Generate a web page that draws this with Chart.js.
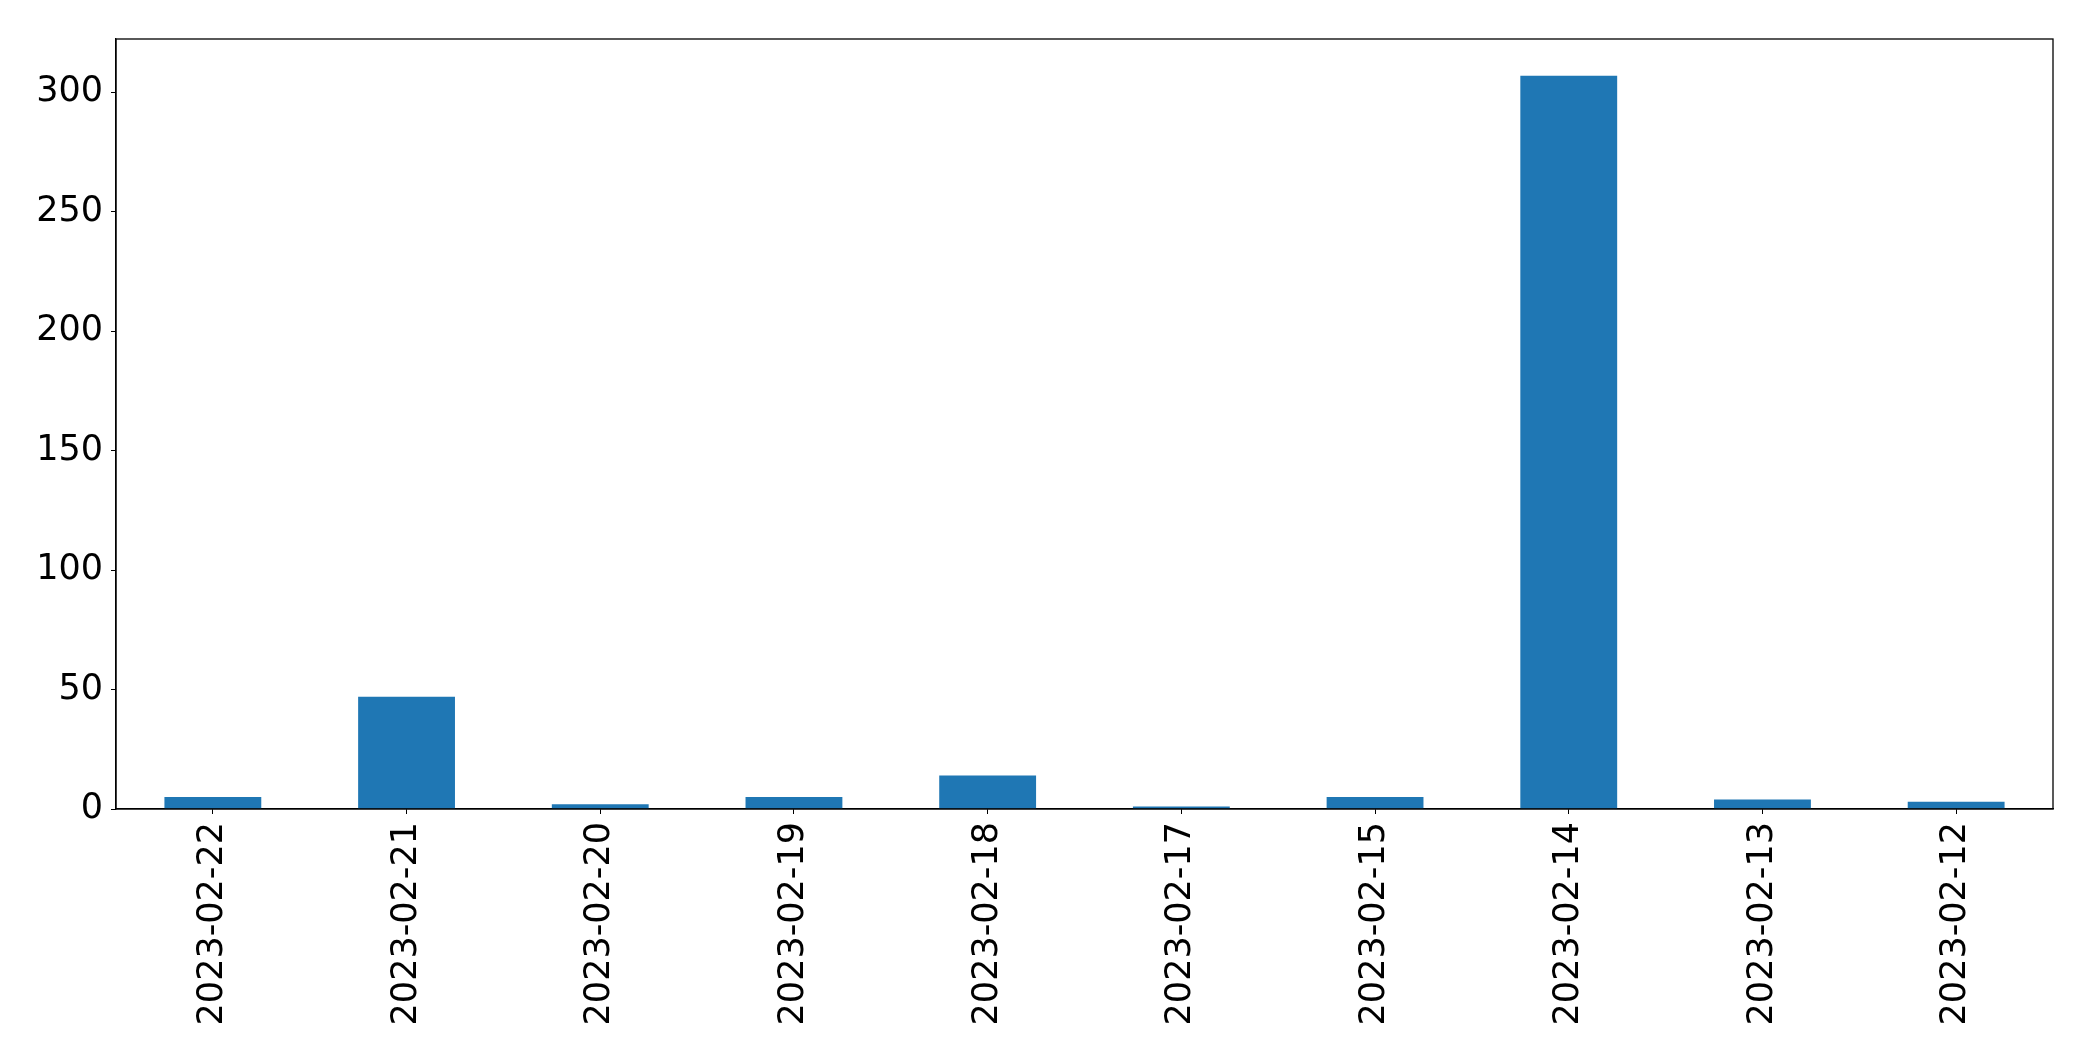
<!DOCTYPE html>
<html>
<head>
<meta charset="utf-8">
<style>
  html, body { margin: 0; padding: 0; background: #fff; }
  #wrap { width: 2093px; height: 1061px; }
</style>
<script src="https://cdn.jsdelivr.net/npm/chart.js@4"></script>
</head>
<body>
<div id="wrap"><canvas id="barChart"></canvas></div>
<script>
const categories = ["2023-02-22", "2023-02-21", "2023-02-20", "2023-02-19", "2023-02-18",
                    "2023-02-17", "2023-02-15", "2023-02-14", "2023-02-13", "2023-02-12"];
const counts = [5, 47, 2, 5, 14, 1, 5, 307, 4, 3];
const yTicks = [0, 50, 100, 150, 200, 250, 300];
const yMax = 322.35;

// box around the plot area (top + right sides, like matplotlib spines)
const frame = {
  id: 'frame',
  afterDraw(chart) {
    const { ctx, chartArea: a } = chart;
    ctx.save();
    ctx.strokeStyle = '#000';
    ctx.lineWidth = 1.3;
    ctx.strokeRect(a.left, a.top, a.right - a.left, a.bottom - a.top);
    ctx.restore();
  }
};

new Chart(document.getElementById('barChart'), {
  type: 'bar',
  data: {
    labels: categories,
    datasets: [{
      data: counts,
      backgroundColor: '#1f77b4',
      barPercentage: 0.5,
      categoryPercentage: 1.0
    }]
  },
  options: {
    responsive: true,
    maintainAspectRatio: false,
    animation: false,
    layout: { padding: { left: 0, right: 40, top: 39, bottom: 0 } },
    plugins: { legend: { display: false }, tooltip: { enabled: false } },
    scales: {
      x: {
        grid: { display: true, drawOnChartArea: false, drawTicks: true, tickLength: 5, color: '#000', offset: false },
        border: { display: true, color: '#000', width: 1.3 },
        ticks: {
          color: '#000',
          font: { family: 'DejaVu Sans', size: 35 },
          minRotation: 90,
          maxRotation: 90,
          autoSkip: false,
          padding: 8
        },
        afterFit(scale) { scale.height = 1061 - 809; }
      },
      y: {
        min: 0,
        max: yMax,
        grid: { display: true, drawOnChartArea: false, drawTicks: true, tickLength: 5, color: '#000' },
        border: { display: true, color: '#000', width: 1.3 },
        ticks: {
          color: '#000',
          font: { family: 'DejaVu Sans', size: 35 },
          padding: 8
        },
        afterBuildTicks(scale) { scale.ticks = yTicks.map(v => ({ value: v })); },
        afterFit(scale) { scale.width = 116; }
      }
    }
  },
  plugins: [frame]
});
</script>
</body>
</html>
